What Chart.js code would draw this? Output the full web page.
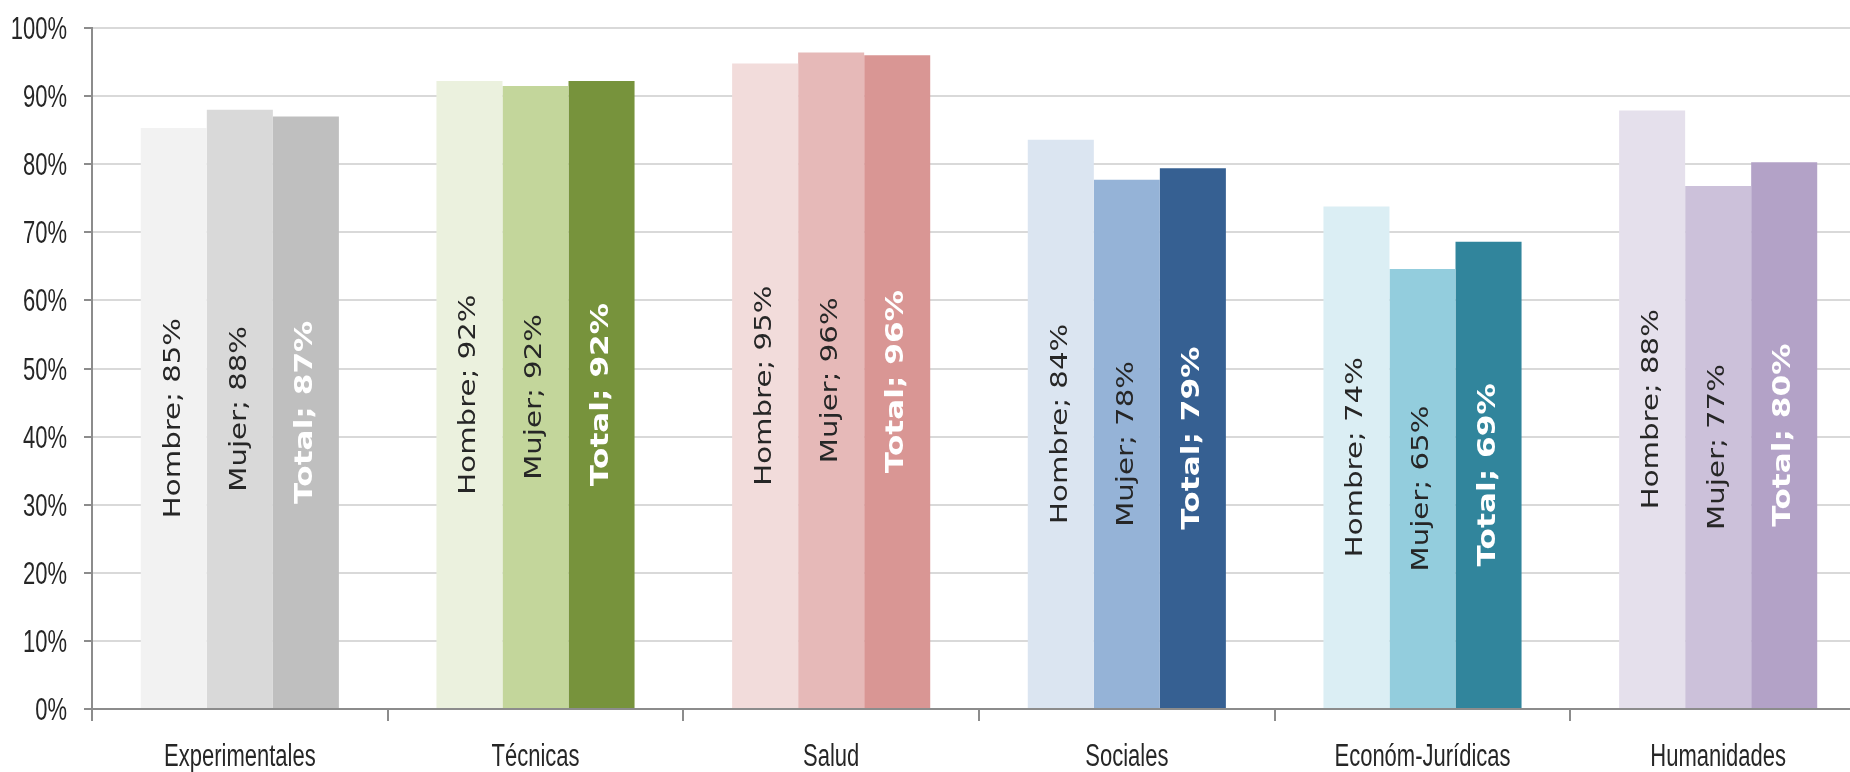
<!DOCTYPE html>
<html>
<head>
<meta charset="utf-8">
<script src="https://cdn.jsdelivr.net/npm/chart.js@4.4.1/dist/chart.umd.min.js"></script>
<style>
  html, body { margin: 0; padding: 0; background: #ffffff; overflow: hidden; }
  #wrap { position: absolute; left: 0; top: 0; width: 1866px; height: 772px; }
</style>
</head>
<body>
<div id="wrap"><canvas id="c"></canvas></div>
<script>
const categories = ['Experimentales', 'Técnicas', 'Salud', 'Sociales', 'Económ-Jurídicas', 'Humanidades'];
const seriesNames = ['Hombre', 'Mujer', 'Total'];
const hombre = [85.3, 92.2, 94.8, 83.6, 73.8, 87.9];
const mujer  = [88.0, 91.5, 96.4, 77.7, 64.6, 76.8];
const total  = [87.0, 92.2, 96.0, 79.4, 68.6, 80.3];
const hombreColors = ['#f2f2f2', '#ebf1de', '#f2dcdb', '#dbe5f1', '#dbeef4', '#e5e0ec'];
const mujerColors  = ['#d9d9d9', '#c3d69b', '#e6b9b8', '#95b3d7', '#93cddd', '#ccc1da'];
const totalColors  = ['#bfbfbf', '#77933c', '#d99694', '#366092', '#31859c', '#b3a2c7'];
const yTickValues = [0, 10, 20, 30, 40, 50, 60, 70, 80, 90, 100];
const yTickLabels = ['0%', '10%', '20%', '30%', '40%', '50%', '60%', '70%', '80%', '90%', '100%'];

const TICK_FONT = '22px "Liberation Sans", Arial';
const STRETCH = 1.4;

const labelPlugin = {
  id: 'barLabels',
  afterDatasetsDraw(chart) {
    const ctx = chart.ctx;
    chart.data.datasets.forEach((ds, i) => {
      const meta = chart.getDatasetMeta(i);
      const isTotal = ds.label === 'Total';
      meta.data.forEach((bar, j) => {
        const v = ds.data[j];
        const text = ds.label + '; ' + Math.round(v) + '%';
        const cx = bar.x;
        const cy = (bar.y + bar.base) / 2;
        ctx.save();
        ctx.translate(cx, cy);
        ctx.rotate(-Math.PI / 2);
        ctx.scale(isTotal ? 1.3 : 1.27, 1);
        ctx.font = isTotal ? 'bold 24px "DejaVu Sans"' : '23px "DejaVu Sans"';
        ctx.fillStyle = isTotal ? '#ffffff' : '#262626';
        ctx.textAlign = 'center';
        ctx.textBaseline = 'middle';
        ctx.fillText(text, 0, 0);
        ctx.restore();
      });
    });
  }
};

const tickLabelPlugin = {
  id: 'stretchedTicks',
  afterDraw(chart) {
    const ctx = chart.ctx;
    const xs = chart.scales.x;
    const ys = chart.scales.y;
    ctx.save();
    ctx.font = TICK_FONT;
    ctx.fillStyle = '#262626';
    ctx.textBaseline = 'alphabetic';
    ctx.textAlign = 'center';
    categories.forEach((c, i) => {
      const px = xs.getPixelForValue(i);
      ctx.save();
      ctx.translate(px, xs.top + 57);
      ctx.scale(1, STRETCH);
      ctx.fillText(c, 0, 0);
      ctx.restore();
    });
    ctx.textAlign = 'right';
    yTickValues.forEach((v, i) => {
      const py = ys.getPixelForValue(v);
      ctx.save();
      ctx.translate(ys.right - 25, py + 11);
      ctx.scale(1, STRETCH);
      ctx.fillText(yTickLabels[i], 0, 0);
      ctx.restore();
    });
    ctx.restore();
  }
};

new Chart(document.getElementById('c'), {
  type: 'bar',
  data: {
    labels: categories,
    datasets: [
      { label: seriesNames[0], data: hombre, backgroundColor: hombreColors },
      { label: seriesNames[1], data: mujer, backgroundColor: mujerColors },
      { label: seriesNames[2], data: total, backgroundColor: totalColors }
    ]
  },
  options: {
    responsive: true,
    maintainAspectRatio: false,
    animation: false,
    categoryPercentage: 0.67,
    barPercentage: 1.0,
    layout: { padding: { left: 0, right: 0, top: 28, bottom: 0 } },
    plugins: {
      legend: { display: false },
      tooltip: { enabled: false },
      title: { display: false }
    },
    scales: {
      x: {
        grid: { display: true, drawOnChartArea: false, drawTicks: true, tickLength: 12, offset: true, color: '#8c8c8c', lineWidth: 2 },
        border: { display: true, color: '#8c8c8c', width: 2 },
        ticks: { display: false, autoSkip: false },
        afterFit(scale) { scale.height = 63; }
      },
      y: {
        min: 0,
        max: 100,
        afterBuildTicks(scale) { scale.ticks = yTickValues.map(v => ({ value: v })); },
        grid: { color: '#d9d9d9', lineWidth: 2, tickLength: 8, tickColor: '#8c8c8c', drawTicks: true },
        border: { display: true, color: '#8c8c8c', width: 2 },
        ticks: { display: false },
        afterFit(scale) { scale.width = 92; }
      }
    }
  },
  plugins: [labelPlugin, tickLabelPlugin]
});
</script>
</body>
</html>
